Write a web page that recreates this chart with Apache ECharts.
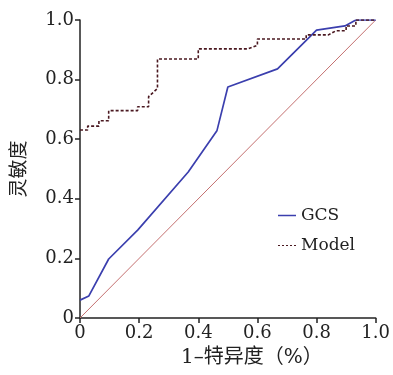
<!DOCTYPE html>
<html>
<head>
<meta charset="utf-8">
<script src="https://cdn.jsdelivr.net/npm/echarts@6/dist/echarts.min.js"></script>
<style>
  html, body { margin: 0; padding: 0; background: #fff; }
  #chart { width: 393px; height: 375px; }
</style>
</head>
<body>
<div id="chart"></div>
<script>
// values
const gcsPoints = [
  [0, 0.06], [0.03, 0.074], [0.097, 0.198], [0.195, 0.295], [0.366, 0.49],
  [0.463, 0.628], [0.5, 0.775], [0.668, 0.836], [0.8, 0.966], [0.896, 0.98],
  [0.933, 1.0], [1.0, 1.0]
];
const modelPoints = [
  [0, 0.631], [0.026, 0.631], [0.026, 0.644], [0.064, 0.644], [0.064, 0.662],
  [0.097, 0.662], [0.097, 0.696], [0.195, 0.696], [0.195, 0.709], [0.232, 0.709],
  [0.232, 0.743], [0.262, 0.77], [0.262, 0.869], [0.4, 0.869], [0.4, 0.903],
  [0.567, 0.903], [0.6, 0.915], [0.6, 0.936], [0.765, 0.936], [0.765, 0.95],
  [0.84, 0.95], [0.866, 0.964], [0.9, 0.964], [0.9, 0.98], [0.933, 0.98],
  [0.933, 1.0], [1.0, 1.0]
];
const refLine = [[0, 0], [1, 1]];
const seriesNames = ['GCS', 'Model'];
const xTitle = '1–特异度（%）';
const yTitle = '灵敏度';

const serif = "'DejaVu Serif', 'Noto Sans CJK SC', serif";
const fmt = (v) => (v === 0 ? '0' : v.toFixed(1));
const ink = '#222';

const chart = echarts.init(document.getElementById('chart'));
chart.setOption({
  animation: false,
  backgroundColor: '#fff',
  textStyle: { fontFamily: serif },
  grid: { left: 80, right: 15, top: 20, bottom: 57 },
  legend: {
    orient: 'vertical',
    left: 273,
    top: 202,
    itemWidth: 18,
    itemHeight: 1.5,
    itemGap: 13,
    textStyle: { fontFamily: serif, fontSize: 17, color: ink },
    data: [
      { name: seriesNames[0], icon: 'rect' },
      { name: seriesNames[1], icon: 'path://M0,0h2v1h-2zM4,0h2v1h-2zM8,0h2v1h-2zM12,0h2v1h-2zM16,0h2v1h-2z' },
    ],
  },
  xAxis: {
    type: 'value', min: 0, max: 1, interval: 0.2,
    name: xTitle, nameLocation: 'middle', nameGap: 30,
    nameTextStyle: { fontFamily: serif, fontSize: 20, color: ink, padding: [0, 0, 0, 48] },
    axisLine: { lineStyle: { color: ink, width: 1.5 } },
    axisTick: { length: 5, lineStyle: { color: ink, width: 1.5 } },
    axisLabel: { fontFamily: serif, fontSize: 18, color: ink, margin: 6, formatter: fmt },
    splitLine: { show: false },
  },
  yAxis: {
    type: 'value', min: 0, max: 1, interval: 0.2,
    name: yTitle, nameLocation: 'middle', nameRotate: 90, nameGap: 50,
    nameTextStyle: { fontFamily: serif, fontSize: 19, color: ink },
    axisLine: { show: true, lineStyle: { color: ink, width: 1.5 } },
    axisTick: { show: true, length: 5, lineStyle: { color: ink, width: 1.5 } },
    axisLabel: { fontFamily: serif, fontSize: 18, color: ink, margin: 6, formatter: fmt },
    splitLine: { show: false },
  },
  series: [
    {
      name: 'ref', type: 'line', data: refLine, symbol: 'none', silent: true,
      lineStyle: { color: '#c47070', width: 1 },
    },
    {
      name: seriesNames[0], type: 'line', data: gcsPoints, symbol: 'none',
      lineStyle: { color: '#3b3fae', width: 1.7 }, itemStyle: { color: '#3b3fae' },
    },
    {
      name: seriesNames[1], type: 'line', data: modelPoints, symbol: 'none',
      lineStyle: { color: '#4a1820', width: 1.6, type: [3, 2] }, itemStyle: { color: '#4a1820' },
    },
  ],
});
</script>
</body>
</html>
